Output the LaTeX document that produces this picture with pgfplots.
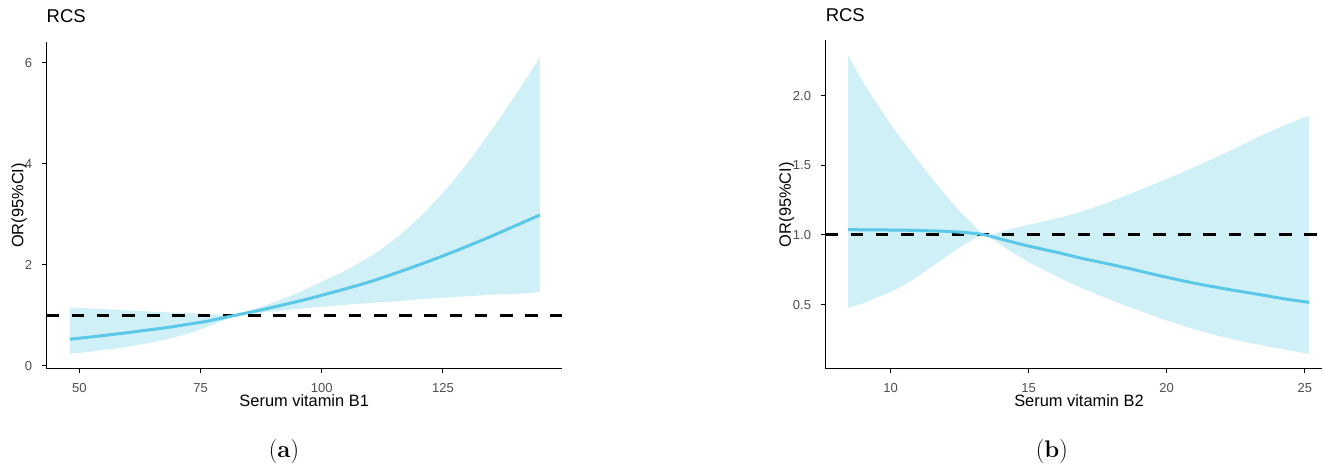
\documentclass[border=0pt]{standalone}
\usepackage{fontspec}
\newfontfamily\arial{Liberation Sans}
\usepackage{pgfplots}
\pgfplotsset{compat=1.18}
\usepgfplotslibrary{fillbetween}
\usepackage{pgfplotstable}
\definecolor{rcsline}{RGB}{92,200,232}
\definecolor{rcsfill}{RGB}{207,240,246}
\definecolor{ticktext}{RGB}{77,77,77}

\pgfplotstableread{
x fit lo up
48 0.53 0.24 1.16
52 0.57 0.28 1.14
56 0.615 0.33 1.12
60 0.66 0.38 1.10
64 0.71 0.45 1.08
68 0.76 0.53 1.06
72 0.82 0.63 1.05
76 0.88 0.76 1.03
79 0.94 0.87 1.015
82 1.00 1.00 1.00
85 1.06 1.03 1.09
88 1.12 1.06 1.19
92 1.21 1.10 1.33
96 1.30 1.14 1.49
100 1.40 1.17 1.67
105 1.53 1.21 1.90
110 1.67 1.25 2.17
115 1.83 1.28 2.51
120 2.00 1.32 2.93
125 2.18 1.35 3.43
130 2.37 1.38 4.01
135 2.57 1.41 4.67
140 2.78 1.43 5.37
145 2.99 1.46 6.11
}\dataA

\pgfplotstableread{
x fit lo up
8.46 1.038 0.476 2.29
9.0 1.037 0.51 2.10
9.61 1.036 0.56 1.91
10.2 1.035 0.61 1.74
10.82 1.033 0.68 1.58
11.4 1.030 0.76 1.43
12.03 1.026 0.846 1.28
12.5 1.020 0.91 1.17
12.88 1.014 0.954 1.10
13.42 1.0 1.0 1.0
14.2 0.96 0.90 1.035
15.05 0.918 0.80 1.075
16.14 0.870 0.69 1.125
16.86 0.835 0.625 1.165
17.7 0.80 0.555 1.22
18.55 0.763 0.49 1.285
19.8 0.705 0.40 1.385
20.97 0.655 0.325 1.485
22.2 0.61 0.26 1.595
23.39 0.571 0.21 1.71
24.3 0.54 0.175 1.79
25.16 0.516 0.148 1.856
}\dataB

\pgfplotsset{rcsstyle/.style={
  scale only axis,
  axis x line*=bottom, axis y line*=left,
  axis line style={line width=1.1bp, black},
  tick align=outside,
  major tick length=4.5bp,
  major tick style={line width=1bp, black},
  tick label style={font=\arial\fontsize{13bp}{13bp}\selectfont, text=ticktext, inner sep=0pt},
  /pgf/number format/assume math mode=true,
  xticklabel style={anchor=base, yshift=-19bp},
  yticklabel style={anchor=east, xshift=-9.8bp},
  label style={font=\arial\fontsize{16.4bp}{16.4bp}\selectfont, inner sep=0pt},
  xlabel style={at={(axis description cs:0.5,0)}, anchor=base, yshift=-37.5bp},
  title style={font=\arial\fontsize{18.5bp}{18.5bp}\selectfont, inner sep=0pt, anchor=base west, at={(axis description cs:0,1)}},
}}

\begin{document}
\begin{tikzpicture}
\path (0bp,0bp) rectangle (1323bp,464bp);

\begin{axis}[rcsstyle,
  at={(46.5bp,95bp)}, anchor=south west,
  width=515.5bp, height=327bp,
  xmin=43.2, xmax=149.53, ymin=-0.059, ymax=6.416,
  xtick={50,75,100,125}, ytick={0,2,4,6},
  xlabel={Serum vitamin B1}, ylabel={OR(95\%CI)}, title={RCS},
  ylabel style={at={(axis description cs:-0.045,0.5)}, anchor=base},
  title style={yshift=13.7bp}]
  \addplot[name path=upA, draw=none, forget plot, smooth] table[x=x, y=up] {\dataA};
  \addplot[name path=loA, draw=none, forget plot, smooth] table[x=x, y=lo] {\dataA};
  \addplot[rcsfill, draw=none] fill between[of=upA and loA];
  \addplot[black, line width=3bp, dash pattern=on 12.5bp off 12.7bp] coordinates {(43.2,1) (149.53,1)};
  \addplot[rcsline, line width=3bp, smooth] table[x=x, y=fit] {\dataA};
\end{axis}

\begin{axis}[rcsstyle,
  at={(825.7bp,95bp)}, anchor=south west,
  width=497bp, height=328.6bp,
  xmin=7.647, xmax=25.64, ymin=0.038, ymax=2.397,
  xtick={10,15,20,25}, ytick={0.5,1.0,1.5,2.0},
  yticklabel style={/pgf/number format/.cd, fixed, fixed zerofill, precision=1},
  xlabel={Serum vitamin B2}, ylabel={OR(95\%CI)}, title={RCS},
  ylabel style={at={(axis description cs:-0.07,0.5)}, anchor=base},
  xlabel style={at={(axis description cs:0.51,0)}},
  title style={yshift=12.7bp}]
  \addplot[name path=upB, draw=none, forget plot, smooth] table[x=x, y=up] {\dataB};
  \addplot[name path=loB, draw=none, forget plot, smooth] table[x=x, y=lo] {\dataB};
  \addplot[rcsfill, draw=none] fill between[of=upB and loB];
  \addplot[black, line width=3bp, dash pattern=on 12.5bp off 12.7bp] coordinates {(7.647,1) (25.64,1)};
  \addplot[rcsline, line width=3bp, smooth] table[x=x, y=fit] {\dataB};
\end{axis}

\node[anchor=base, inner sep=0pt, font=\fontsize{24bp}{24bp}\selectfont] at (284bp,6bp) {(\textbf{a})};
\node[anchor=base, inner sep=0pt, font=\fontsize{24bp}{24bp}\selectfont] at (1052bp,6bp) {(\textbf{b})};
\end{tikzpicture}
\end{document}
